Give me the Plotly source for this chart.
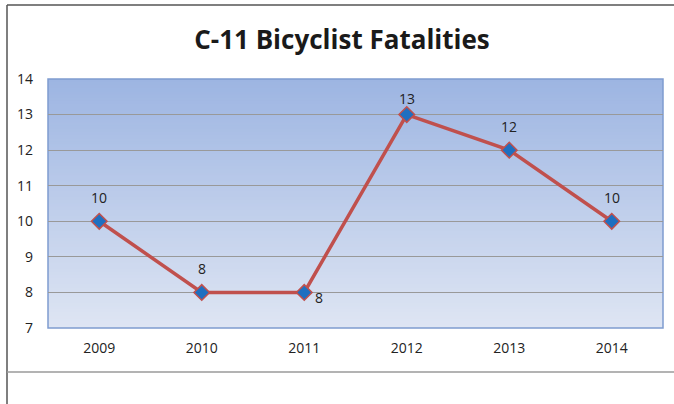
import plotly.graph_objects as go

years = ["2009", "2010", "2011", "2012", "2013", "2014"]
fatalities = [10, 8, 8, 13, 12, 10]
label_dx = [0, 0, 15, 0, 0, 0]
label_dy = [24, 24, -5, 16, 24, 24]
y_ticks = [7, 8, 9, 10, 11, 12, 13, 14]

W, H = 674, 404
ML, MR, MT, MB = 48, 11, 79, 76
PW, PH = W - ML - MR, H - MT - MB

def px(x):
    return (x - ML) / PW

def py(y):
    return (H - MB - y) / PH

fig = go.Figure()
fig.add_trace(go.Scatter(
    x=years, y=fatalities, mode="lines+markers",
    line=dict(color="#C0504D", width=3.5),
    marker=dict(symbol="diamond", size=12, color="#1F6FC0",
                line=dict(color="#C0504D", width=1.5)),
    hoverinfo="skip", showlegend=False, cliponaxis=False,
))

for i, (v, dx, dy) in enumerate(zip(fatalities, label_dx, label_dy)):
    fig.add_annotation(x=i, y=v, text=str(v), showarrow=False,
                       xshift=dx, yshift=dy, xanchor="center", yanchor="middle",
                       font=dict(family="Open Sans", size=14, color="#222"))

shapes = []
N = 80
top = (157, 181, 226)
bot = (222, 229, 243)
for k in range(N):
    t = k / (N - 1)
    c = tuple(round(top[j] + (bot[j] - top[j]) * t) for j in range(3))
    y0 = max(0, 1 - (k + 1) / N - 0.006)
    shapes.append(dict(type="rect", xref="x domain", yref="y domain",
                       x0=0, x1=1, y0=y0, y1=1 - k / N,
                       fillcolor="rgb(%d,%d,%d)" % c, line=dict(width=0),
                       layer="below"))
shapes.append(dict(type="rect", xref="x domain", yref="y domain",
                   x0=0, x1=1, y0=0, y1=1, line=dict(color="#7F9CD0", width=1.5),
                   layer="below"))
shapes.append(dict(type="line", xref="paper", yref="paper",
                   x0=px(7), x1=px(7), y0=py(5), y1=py(404),
                   line=dict(color="#555555", width=1.5), layer="above"))
shapes.append(dict(type="line", xref="paper", yref="paper",
                   x0=px(7), x1=px(674), y0=py(5), y1=py(5),
                   line=dict(color="#555555", width=1.5), layer="above"))
shapes.append(dict(type="line", xref="paper", yref="paper",
                   x0=px(7), x1=px(674), y0=py(372), y1=py(372),
                   line=dict(color="#9A9A9A", width=1.5), layer="above"))

fig.update_layout(
    width=W, height=H,
    margin=dict(l=ML, r=MR, t=MT, b=MB),
    paper_bgcolor="white", plot_bgcolor="rgba(0,0,0,0)",
    title=dict(text="<b>C-11 Bicyclist Fatalities</b>", x=px(342), xref="paper",
               y=1 - 40 / H, yanchor="middle", xanchor="center",
               font=dict(family="Open Sans", size=26, color="#1a1a1a")),
    xaxis=dict(type="category", range=[-0.5, 5.5], showgrid=False,
               showline=False, ticks="", tickfont=dict(family="Open Sans", size=14, color="#222"),
               ticklabelstandoff=10),
    yaxis=dict(range=[7, 14], tickvals=y_ticks, showgrid=True,
               gridcolor="#999999", gridwidth=1.3, zeroline=False, showline=False,
               ticks="", tickfont=dict(family="Open Sans", size=14, color="#222"),
               ticklabelstandoff=14),
    shapes=shapes,
)

fig.write_html("out.html", config={"displayModeBar": False},
               post_script="document.body.style.margin='0';")
